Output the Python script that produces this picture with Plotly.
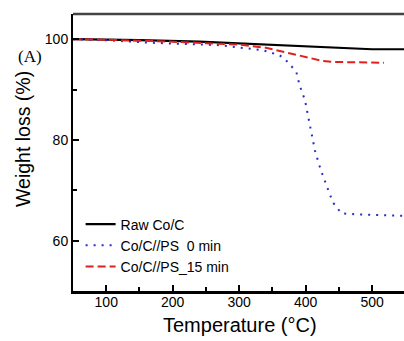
import plotly.graph_objects as go

# Data
raw_T = [50, 100, 150, 240, 305, 390, 430, 474, 500, 550]
raw_W = [100.0, 99.95, 99.8, 99.5, 99.1, 98.6, 98.3, 98.1, 98.0, 98.0]

ps0_T = [50, 100, 166, 271, 336, 361, 373, 386, 391, 399, 404, 409, 414, 420, 424, 441, 454, 480, 542, 550]
ps0_W = [100.0, 99.8, 99.3, 98.8, 97.8, 96.8, 95.5, 93.5, 90.8, 87.9, 84.5, 81.2, 77.9, 75.2, 73.6, 67.6, 65.4, 65.2, 64.9, 64.9]

ps15_T = [50, 100, 200, 301, 340, 366, 390, 406, 425, 441, 480, 518]
ps15_W = [100.0, 99.9, 99.5, 98.9, 98.3, 97.5, 96.7, 96.2, 95.7, 95.5, 95.4, 95.3]

x_ticks = [100, 200, 300, 400, 500]
y_ticks = [60, 80, 100]

fig = go.Figure()
fig.add_trace(go.Scatter(x=raw_T, y=raw_W, mode="lines", name="Raw Co/C",
                         line=dict(color="black", width=2.2)))
fig.add_trace(go.Scatter(x=ps0_T, y=ps0_W, mode="lines", name="Co/C//PS  0 min",
                         line=dict(color="#2b2bc8", width=2, dash="2px,6px")))
fig.add_trace(go.Scatter(x=ps15_T, y=ps15_W, mode="lines", name="Co/C//PS_15 min",
                         line=dict(color="#e0201c", width=2, dash="8px,4px")))

fig.update_layout(
    width=404, height=341,
    margin=dict(l=73, r=0, t=14, b=50),
    paper_bgcolor="white", plot_bgcolor="white",
    font=dict(family="Liberation Sans, Arial, sans-serif", color="black", size=14),
    showlegend=True,
    legend=dict(x=0.023, y=0.298, xanchor="left", yanchor="top",
                bgcolor="rgba(0,0,0,0)", font=dict(size=14), tracegroupgap=0,
                itemwidth=30),
    xaxis=dict(range=[50, 548], tickvals=x_ticks, ticks="inside", ticklen=6,
               tickwidth=1.5, tickcolor="black", ticklabelstandoff=-4,
               minor=dict(tickvals=[150, 250, 350, 450], ticks="inside", ticklen=4,
                          tickcolor="black", tickwidth=1.5),
               showline=True, linecolor="black", linewidth=2.5, mirror=False,
               showgrid=False, zeroline=False),
    yaxis=dict(range=[50, 105], tickvals=y_ticks, ticks="inside", ticklen=6,
               tickwidth=1.5, tickcolor="black",
               minor=dict(tickvals=[70, 90], ticks="inside", ticklen=4,
                          tickcolor="black", tickwidth=1.5),
               showline=True, linecolor="black", linewidth=2, mirror=False,
               showgrid=False, zeroline=False),
    shapes=[dict(type="line", xref="paper", yref="paper", x0=0, x1=1, y0=1, y1=1,
                 line=dict(color="#444444", width=2.5))],
    annotations=[
        dict(text="(A)", xref="paper", yref="paper", x=-0.172, y=0.846,
             showarrow=False, xanchor="left", yanchor="middle",
             font=dict(family="Liberation Serif, Times New Roman, serif", size=17)),
        dict(text="Weight loss (%)", xref="paper", yref="paper", x=-0.153, y=0.55,
             textangle=-90, showarrow=False, xanchor="center", yanchor="middle",
             font=dict(size=19.5)),
        dict(text="Temperature (°C)", xref="paper", yref="paper", x=0.5045, y=-0.1227,
             showarrow=False, xanchor="center", yanchor="middle",
             font=dict(size=20)),
    ],
)

fig.write_html("out.html", config={"displayModeBar": False},
               post_script="document.body.style.margin='0';document.body.style.overflow='hidden';")
